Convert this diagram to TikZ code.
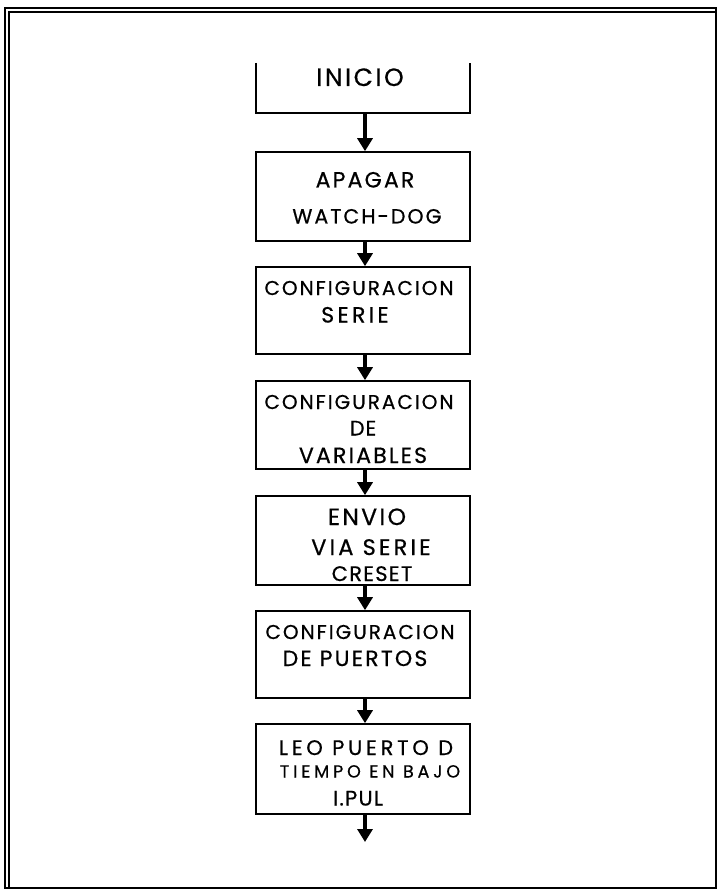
\documentclass[tikz,border=0pt]{standalone}
\usepackage{fontspec}
\newfontfamily\pf[FakeBold=0.6]{Poppins}
\usetikzlibrary{arrows.meta}
\begin{document}
\begin{tikzpicture}[x=1pt,y=-1pt,
  box/.style={draw=black, line width=1.6pt, minimum width=214pt, inner sep=0pt},
  flow/.style={line width=3.6pt, -{Triangle[length=13pt,width=15pt]}},
  txt/.style 2 args={anchor=base, inner sep=0pt,
    font=\pf\fontsize{#1}{#1}\selectfont\addfontfeature{LetterSpace=#2}}]
\useasboundingbox (0,0) rectangle (718,890);
% frame
\draw[line width=1.4pt] (5,8) rectangle (716,888);
\draw[line width=1.2pt] (9,888) -- (9,12) -- (716,12);
% boxes
\node[minimum width=214pt, minimum height=50pt, inner sep=0pt] (b0) at (363,88) {};
\draw[line width=1.6pt] (b0.north west) -- (b0.south west) -- (b0.south east) -- (b0.north east);
\node[box, minimum height=89pt] (b1) at (363,196.5) {};
\node[box, minimum height=87pt] (b2) at (363,310.5) {};
\node[box, minimum height=88pt] (b3) at (363,425) {};
\node[box, minimum height=89pt] (b4) at (363,540.5) {};
\node[box, minimum height=87pt] (b5) at (363,654.5) {};
\node[box, minimum height=90pt] (b6) at (363,769) {};
\coordinate (end) at (365,842);
% texts
\node[txt={25}{10}] (t0) at (360,86) {INICIO};
\node[txt={22}{10}] (t1a) at (365,187.5) {APAGAR};
\node[txt={20.5}{10}] (t1b) at (367,223.5) {WATCH-DOG};
\node[txt={20}{10}] (t2a) at (359,295) {CONFIGURACION};
\node[txt={22}{15}] (t2b) at (355,322.5) {SERIE};
\node[txt={20}{10}] (t3a) at (359,409) {CONFIGURACION};
\node[txt={21}{4}] (t3b) at (363,435.5) {DE};
\node[txt={22}{10}] (t3c) at (363,463) {VARIABLES};
\node[txt={23.5}{10}] (t4a) at (367,525) {ENVIO};
\node[txt={22.5}{14}] (t4b) at (371,555) {VIA SERIE};
\node[txt={21}{6}] (t4c) at (372,581) {CRESET};
\node[txt={20}{10}] (t5a) at (360,639) {CONFIGURACION};
\node[txt={22}{10}] (t5b) at (355,666) {DE PUERTOS};
\node[txt={21}{18}] (t6a) at (366,755) {LEO PUERTO D};
\node[txt={17.5}{22}] (t6b) at (370,777.5) {TIEMPO EN BAJO};
\node[txt={21}{6}] (t6c) at (358,805.5) {I.PUL};
% arrows
\draw[flow] ([xshift=2pt]b0.south) -- ([xshift=2pt]b1.north);
\draw[flow] ([xshift=2pt]b1.south) -- ([xshift=2pt]b2.north);
\draw[flow] ([xshift=2pt]b2.south) -- ([xshift=2pt]b3.north);
\draw[flow] ([xshift=2pt]b3.south) -- ([xshift=2pt]b4.north);
\draw[flow] ([xshift=2pt]b4.south) -- ([xshift=2pt]b5.north);
\draw[flow] ([xshift=2pt]b5.south) -- ([xshift=2pt]b6.north);
\draw[flow] ([xshift=2pt]b6.south) -- (end);
\end{tikzpicture}
\end{document}
